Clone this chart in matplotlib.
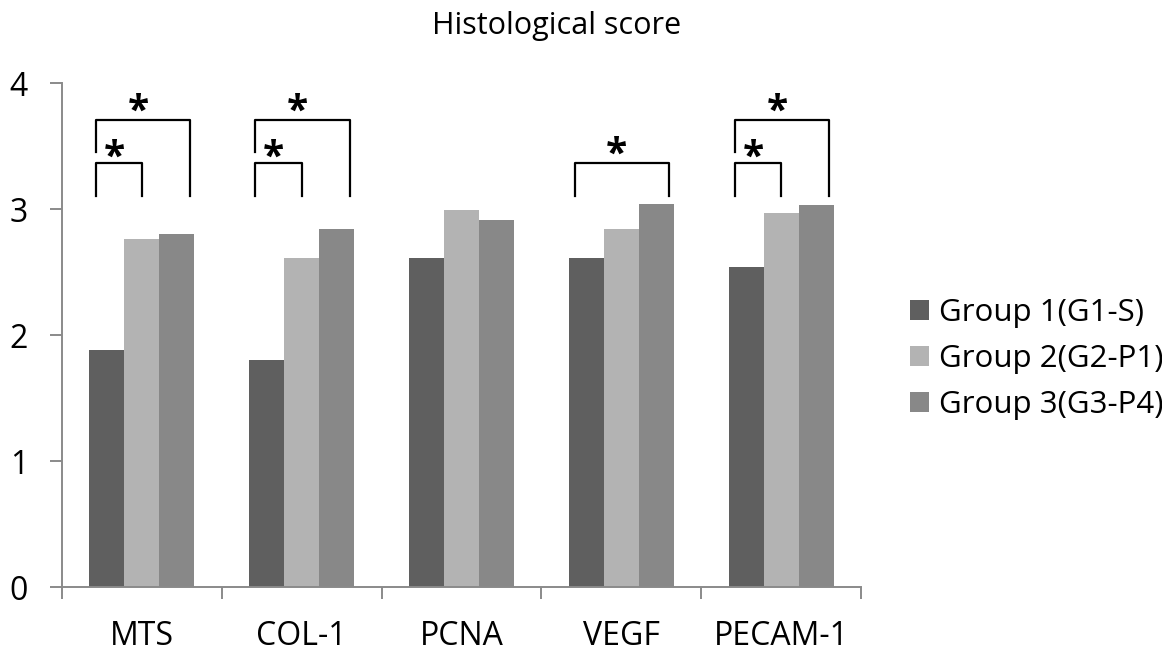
import numpy as np
import matplotlib
matplotlib.use("Agg")
import matplotlib.pyplot as plt

plt.rcParams['font.family'] = ['Open Sans', 'DejaVu Sans']

categories = ['MTS', 'COL-1', 'PCNA', 'VEGF', 'PECAM-1']
group_labels = ['Group 1(G1-S)', 'Group 2(G2-P1)', 'Group 3(G3-P4)']
g1 = [1.88, 1.80, 2.61, 2.61, 2.54]
g2 = [2.76, 2.61, 2.99, 2.84, 2.97]
g3 = [2.80, 2.84, 2.91, 3.04, 3.03]
colors = ['#5f5f5f', '#b3b3b3', '#888888']

# significance vs group 1: (category index, compared group index)
sig_pairs = [(0, 1), (0, 2), (1, 1), (1, 2), (3, 2), (4, 1), (4, 2)]

fig = plt.figure(figsize=(11.62, 6.55), dpi=100)
ax = fig.add_axes([62 / 1162, 1 - 587 / 655, 799 / 1162, 504 / 655])

width = 0.219
centers = np.arange(len(categories)) + 0.5
bars = []
for k, vals in enumerate([g1, g2, g3]):
    b = ax.bar(centers + (k - 1) * width, vals, width, color=colors[k],
               label=group_labels[k], linewidth=0)
    bars.append(b)

ax.set_xlim(0, len(categories))
ax.set_ylim(0, 4)
ax.set_yticks([0, 1, 2, 3, 4])
ax.set_xticks(np.arange(len(categories) + 1))
ax.set_xticklabels([])
ax.set_xticks(centers, minor=True)
ax.set_xticklabels(categories, minor=True, fontsize=23)
ax.tick_params(axis='x', which='minor', length=0, pad=24)
ax.tick_params(axis='x', which='major', length=8.5, width=1.4, color='#8a8a8a')
ax.tick_params(axis='y', length=8.5, width=1.4, color='#8a8a8a', labelsize=23, pad=16)
for s in ['top', 'right']:
    ax.spines[s].set_visible(False)
for s in ['left', 'bottom']:
    ax.spines[s].set_color('#8a8a8a')
    ax.spines[s].set_linewidth(1.4)

# significance brackets
leg_bottom = 3.105
low_y = 3.365
high_y = 3.705
left_off = -0.29
right_off = {1: 0.0, 2: 0.30}
star_shift = 0.214   # glyph centre sits this far above the text bottom
lw = 1.6
for ci, gi in sig_pairs:
    c = centers[ci]
    has_both = (ci, 1) in sig_pairs and (ci, 2) in sig_pairs
    xl = c + left_off
    xr = c + right_off[gi]
    if gi == 2 and has_both:
        ax.plot([xl, xl, xr, xr], [3.45, high_y, high_y, leg_bottom],
                color='black', lw=lw, clip_on=False)
        ax.text(c - 0.025, 3.825 - star_shift, '*', ha='center', va='bottom',
                fontsize=28, fontweight='bold', clip_on=False)
    elif gi == 1:
        ax.plot([xl, xl, xr, xr], [leg_bottom, low_y, low_y, leg_bottom],
                color='black', lw=lw, clip_on=False)
        ax.text(c - 0.175, 3.46 - star_shift, '*', ha='center', va='bottom',
                fontsize=28, fontweight='bold', clip_on=False)
    else:
        ax.plot([xl, xl, xr, xr], [leg_bottom, low_y, low_y, leg_bottom],
                color='black', lw=lw, clip_on=False)
        ax.text(c - 0.03, 3.49 - star_shift, '*', ha='center', va='bottom',
                fontsize=28, fontweight='bold', clip_on=False)

fig.text(557 / 1162, 1 - 26 / 655, 'Histological score', ha='center', va='center', fontsize=22)

fig.legend(handles=bars, labels=group_labels, loc='center left',
           bbox_to_anchor=(894 / 1162, 1 - 359 / 655), frameon=False, fontsize=22.5,
           borderpad=0, handlelength=0.61, handleheight=0.61, handletextpad=0.32,
           labelspacing=0.5)

fig.savefig('out.png', dpi=100)
